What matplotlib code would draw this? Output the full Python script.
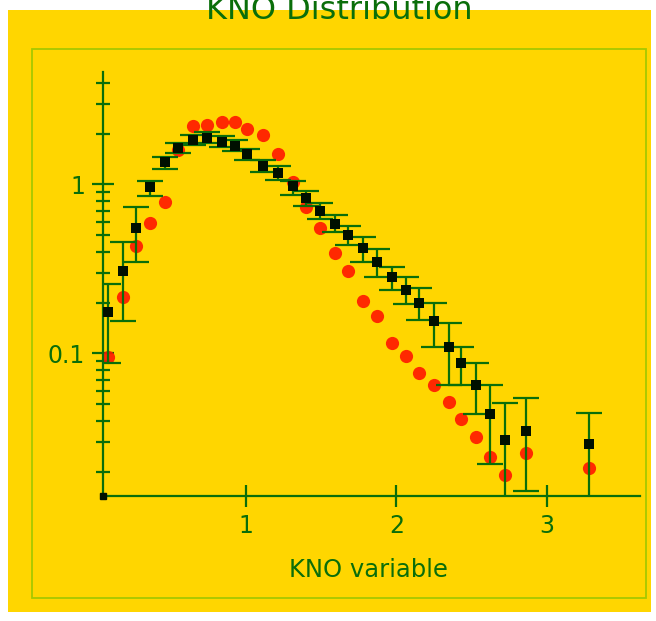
import matplotlib
matplotlib.use("Agg")
import matplotlib.pyplot as plt
import matplotlib.patches as patches
from matplotlib.ticker import FixedLocator, NullFormatter
import numpy as np

# ---- data ----
kno_x = [0.08, 0.18, 0.27, 0.36, 0.46, 0.55, 0.65, 0.74, 0.84, 0.93,
         1.01, 1.11, 1.21, 1.31, 1.40, 1.49, 1.59, 1.68, 1.78, 1.87,
         1.97, 2.06, 2.15, 2.25, 2.35, 2.43, 2.53, 2.62, 2.72, 2.86, 3.28]

data_y = [0.176, 0.308, 0.553, 0.966, 1.36, 1.64, 1.83, 1.88, 1.78, 1.69,
          1.52, 1.29, 1.17, 0.98, 0.832, 0.697, 0.584, 0.503, 0.421, 0.348,
          0.284, 0.238, 0.199, 0.156, 0.109, 0.0879, 0.0651, 0.0439, 0.0308, 0.0348, 0.0291]

data_hi = [0.258, 0.457, 0.736, 1.049, 1.454, 1.76, 1.963, 2.045, 1.936, 1.834,
           1.622, 1.396, 1.287, 1.049, 0.915, 0.777, 0.660, 0.568, 0.489, 0.415,
           0.325, 0.284, 0.244, 0.199, 0.152, 0.109, 0.0879, 0.0651, 0.0510, 0.0545, 0.0445]

data_lo = [0.0879, 0.156, 0.348, 0.855, 1.235, 1.536, 1.713, 1.76, 1.667, 1.578,
           1.396, 1.186, 1.063, 0.867, 0.746, 0.625, 0.524, 0.439, 0.348, 0.284,
           0.238, 0.196, 0.158, 0.109, 0.0651, 0.0651, 0.0439, 0.0222, 0.010, 0.0154, 0.010]

model_y = [0.0954, 0.216, 0.433, 0.592, 0.788, 1.60, 2.22, 2.25, 2.34, 2.34,
           2.13, 1.96, 1.52, 1.035, 0.736, 0.553, 0.393, 0.308, 0.204, 0.167,
           0.115, 0.0966, 0.0767, 0.0651, 0.0516, 0.0410, 0.0321, 0.0244, 0.0191, 0.0258, 0.0210]

title = "KNO Distribution"
xlabel = "KNO variable"
xticks = [1, 2, 3]
xtick_labels = ["1", "2", "3"]
yticks = [0.1, 1]
ytick_labels = ["0.1", "1"]

# ---- styling ----
W, H = 656, 621
YELLOW = "#FFD600"
GREEN = "#0a6e0a"
FRAME = "#a6c800"

fig = plt.figure(figsize=(W / 100, H / 100), dpi=100)
fig.patch.set_facecolor("white")

# yellow panel and inner frame
fig.patches.append(patches.Rectangle((8 / W, 1 - 612 / H), (651 - 8) / W, (612 - 10) / H,
                                     transform=fig.transFigure, facecolor=YELLOW,
                                     edgecolor="none", zorder=-2))
fig.patches.append(patches.Rectangle((32 / W, 1 - 598 / H), (646 - 32) / W, (598 - 49) / H,
                                     transform=fig.transFigure, facecolor="none",
                                     edgecolor=FRAME, linewidth=1.3, zorder=-1))

ax = fig.add_axes([103 / W, 1 - 496 / H, (640 - 103) / W, (496 - 72) / H])
ax.set_zorder(2)
ax.set_facecolor("none")
ax.set_yscale("log")
ax.set_xlim(0.05, 3.618)
ax.set_ylim(0.01435, 4.63)

x = np.array(kno_x)
y = np.array(data_y)
yerr = np.vstack([y - np.array(data_lo), np.array(data_hi) - y])

ax.plot(x, model_y, "o", color="#ff1a00", markersize=9.5, markeredgewidth=0,
        alpha=0.92, zorder=2)
ax.errorbar(x, y, yerr=yerr, fmt="none", ecolor=GREEN, elinewidth=1.6,
            capsize=9.5, capthick=1.6, zorder=3)
ax.plot(x, y, "s", color="#001000", markersize=7.5, markeredgewidth=0, zorder=4)
# small square marker at the axis origin
ax.plot([0], [0], "s", color="#001000", markersize=5, transform=ax.transAxes,
        clip_on=False, zorder=5)

for s in ["top", "right"]:
    ax.spines[s].set_visible(False)
for s in ["left", "bottom"]:
    ax.spines[s].set_color(GREEN)
    ax.spines[s].set_linewidth(1.6)

ax.set_xticks(xticks)
ax.set_xticklabels(xtick_labels)
ax.set_yticks(yticks)
ax.set_yticklabels(ytick_labels)
minor = [m * d for d in (0.01, 0.1, 1) for m in range(2, 10)]
minor = [v for v in minor if 0.0144 < v < 4.6]
ax.yaxis.set_minor_locator(FixedLocator(minor))
ax.yaxis.set_minor_formatter(NullFormatter())
ax.tick_params(axis="both", which="major", direction="inout", length=16, width=1.6,
               color=GREEN, labelcolor=GREEN, labelsize=17, pad=5)
ax.tick_params(axis="y", which="minor", direction="inout", length=10, width=1.6,
               color=GREEN)
ax.tick_params(axis="x", which="minor", bottom=False)

fig.text(368 / W, 1 - 577 / H, xlabel, ha="center", va="baseline",
         fontsize=17.5, color=GREEN)
fig.text(339 / W, 1 - 19 / H, title, ha="center", va="baseline",
         fontsize=23, color=GREEN)

fig.savefig("out.png", dpi=100, facecolor=fig.get_facecolor())
